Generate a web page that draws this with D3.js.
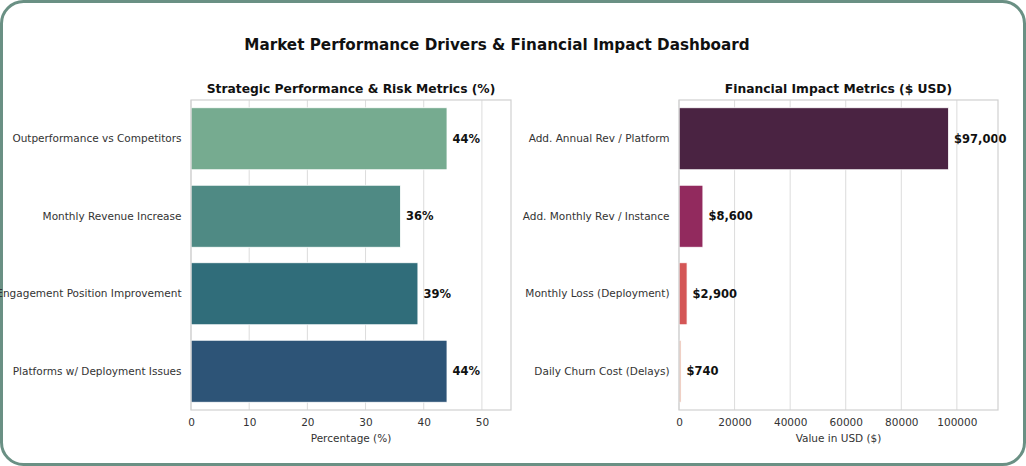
<!DOCTYPE html>
<html>
<head>
<meta charset="utf-8">
<script src="https://cdn.jsdelivr.net/npm/d3@7"></script>
<style>
  html, body { margin: 0; padding: 0; background: #ffffff; }
  svg text { font-family: 'DejaVu Sans', sans-serif; }
</style>
</head>
<body>
<div id="chart"></div>
<script>
const pctCategories = ['Outperformance vs Competitors', 'Monthly Revenue Increase',
  'Engagement Position Improvement', 'Platforms w/ Deployment Issues'];
const pctValues = [44, 36, 39, 44];
const pctColors = ['#76ab90', '#4f8a84', '#306d7a', '#2d5477'];
const pctTicks = [0, 10, 20, 30, 40, 50];

const usdCategories = ['Add. Annual Rev / Platform', 'Add. Monthly Rev / Instance',
  'Monthly Loss (Deployment)', 'Daily Churn Cost (Delays)'];
const usdValues = [97000, 8600, 2900, 740];
const usdColors = ['#4a2342', '#922a5e', '#d45656', '#e8b8a8'];
const usdTicks = [0, 20000, 40000, 60000, 80000, 100000];

const width = 1026;
const height = 466;

const svg = d3.select('#chart')
  .append('svg')
  .attr('width', width)
  .attr('height', height);

// frame
svg.append('rect')
  .attr('x', 1.5)
  .attr('y', 1.5)
  .attr('width', width - 3)
  .attr('height', height - 3)
  .attr('rx', 22)
  .attr('fill', '#ffffff')
  .attr('stroke', '#6a9084')
  .attr('stroke-width', 3);

svg.append('text')
  .attr('x', 497)
  .attr('y', 50)
  .attr('text-anchor', 'middle')
  .attr('font-size', 15.2)
  .attr('font-weight', 'bold')
  .attr('fill', '#111')
  .text('Market Performance Drivers & Financial Impact Dashboard');

function drawPanel(opts) {
  const { left, right, top, bottom, categories, values, colors, ticks, xMax, title, xLabel, fmt } = opts;

  const g = svg.append('g');

  const x = d3.scaleLinear()
    .domain([0, xMax])
    .range([left, right]);

  const y = d3.scaleBand()
    .domain(categories)
    .range([top, bottom])
    .paddingInner(0.2)
    .paddingOuter(0.1);

  // grid
  g.selectAll('.grid')
    .data(ticks)
    .enter()
    .append('line')
    .attr('x1', d => x(d))
    .attr('x2', d => x(d))
    .attr('y1', top)
    .attr('y2', bottom)
    .attr('stroke', '#dcdcdc')
    .attr('stroke-width', 1);

  g.selectAll('.bar')
    .data(values)
    .enter()
    .append('rect')
    .attr('x', x(0))
    .attr('y', (d, i) => y(categories[i]))
    .attr('width', d => x(d) - x(0))
    .attr('height', y.bandwidth())
    .attr('fill', (d, i) => colors[i])
    .attr('stroke', '#ffffff')
    .attr('stroke-width', 0.8);

  g.selectAll('.val')
    .data(values)
    .enter()
    .append('text')
    .attr('x', d => x(d) + 5.5)
    .attr('y', (d, i) => y(categories[i]) + y.bandwidth() / 2)
    .attr('dy', '0.35em')
    .attr('font-size', 11.5)
    .attr('font-weight', 'bold')
    .attr('fill', '#111')
    .text(fmt);

  // frame
  g.append('rect')
    .attr('x', left)
    .attr('y', top)
    .attr('width', right - left)
    .attr('height', bottom - top)
    .attr('fill', 'none')
    .attr('stroke', '#d0d0d0')
    .attr('stroke-width', 1.2);

  const xAxis = g.append('g')
    .attr('transform', `translate(0,${bottom})`)
    .call(d3.axisBottom(x).tickValues(ticks).tickSize(0).tickPadding(9).tickFormat(d3.format('d')));
  xAxis.select('.domain').remove();
  xAxis.selectAll('text')
    .attr('font-size', 10.5)
    .attr('fill', '#333')
    .style('font-family', "'DejaVu Sans', sans-serif");

  const yAxis = g.append('g')
    .attr('transform', `translate(${left},0)`)
    .call(d3.axisLeft(y).tickSize(0).tickPadding(9.5));
  yAxis.select('.domain').remove();
  yAxis.selectAll('text')
    .attr('font-size', 10.5)
    .attr('fill', '#333')
    .style('font-family', "'DejaVu Sans', sans-serif");

  g.append('text')
    .attr('x', (left + right) / 2)
    .attr('y', bottom + 32)
    .attr('text-anchor', 'middle')
    .attr('font-size', 10.5)
    .attr('fill', '#333')
    .text(xLabel);

  g.append('text')
    .attr('x', (left + right) / 2)
    .attr('y', top - 7)
    .attr('text-anchor', 'middle')
    .attr('font-size', 12.3)
    .attr('font-weight', 'bold')
    .attr('fill', '#111')
    .text(title);
}

drawPanel({
  left: 191, right: 511, top: 100, bottom: 410,
  categories: pctCategories, values: pctValues, colors: pctColors, ticks: pctTicks,
  xMax: 55,
  title: 'Strategic Performance & Risk Metrics (%)',
  xLabel: 'Percentage (%)',
  fmt: d => `${d}%`
});

drawPanel({
  left: 679, right: 998, top: 100, bottom: 410,
  categories: usdCategories, values: usdValues, colors: usdColors, ticks: usdTicks,
  xMax: 114800,
  title: 'Financial Impact Metrics ($ USD)',
  xLabel: 'Value in USD ($)',
  fmt: d => '$' + d3.format(',')(d)
});
</script>
</body>
</html>
